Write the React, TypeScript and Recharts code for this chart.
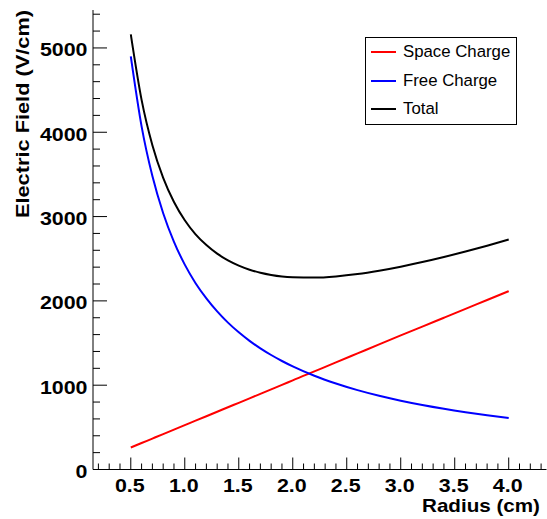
import React from 'react';
import { LineChart, Line, XAxis, YAxis, Legend } from 'recharts';

const radius = [0.5, 0.6, 0.7, 0.8, 0.9, 1.0, 1.1, 1.2, 1.3, 1.4, 1.5, 1.6, 1.7, 1.8, 1.9, 2.0, 2.2, 2.4, 2.6, 2.8, 3.0, 3.2, 3.4, 3.6, 3.8, 4.0];
const spaceCharge = [261, 314, 367, 420, 473, 526, 579, 632, 685, 738, 791, 844, 897, 950, 1003, 1058, 1164, 1270, 1377, 1484, 1590, 1695, 1800, 1905, 2010, 2115];
const freeCharge = [4900, 4070, 3480, 3040, 2700, 2430, 2210, 2030, 1875, 1742, 1627, 1526, 1437, 1358, 1287, 1223, 1112, 1020, 941, 874, 816, 765, 720, 680, 644, 612];
const total = [5161, 4384, 3847, 3460, 3173, 2956, 2789, 2662, 2560, 2480, 2418, 2370, 2334, 2308, 2290, 2281, 2276, 2290, 2318, 2358, 2406, 2460, 2520, 2585, 2654, 2727];

const seriesNames = ['Space Charge', 'Free Charge', 'Total'];
const xTitle = 'Radius (cm)';
const yTitle = 'Electric Field (V/cm)';

const xTicks = [0.2, 0.3, 0.4, 0.5, 0.6, 0.7, 0.8, 0.9, 1.0, 1.1, 1.2, 1.3, 1.4, 1.5, 1.6, 1.7, 1.8, 1.9, 2.0, 2.1, 2.2, 2.3, 2.4, 2.5, 2.6, 2.7, 2.8, 2.9, 3.0, 3.1, 3.2, 3.3, 3.4, 3.5, 3.6, 3.7, 3.8, 3.9, 4.0, 4.1, 4.2, 4.3];
const yTicks = [0, 200, 400, 600, 800, 1000, 1200, 1400, 1600, 1800, 2000, 2200, 2400, 2600, 2800, 3000, 3200, 3400, 3600, 3800, 4000, 4200, 4400, 4600, 4800, 5000, 5200, 5400];
const xDomain = [0.15, 4.35];
const yDomain = [0, 5450];

const data = radius.map((r, i) => ({
  r,
  space: spaceCharge[i],
  free: freeCharge[i],
  total: total[i],
}));

const FONT = '"Liberation Sans", Arial, Helvetica, sans-serif';

const isMajorX = (v: number) => Math.abs(v * 2 - Math.round(v * 2)) < 1e-6;
const isMajorY = (v: number) => Math.abs(v % 1000) < 1e-6;

const BottomTick = (props: any) => {
  const { x, y, payload } = props;
  const v = payload.value as number;
  const major = isMajorX(v);
  const len = major ? 12 : 6;
  return (
    <g>
      <line x1={x} x2={x} y1={y} y2={y - len} stroke="#000" strokeWidth={1} />
      {major && (
        <text
          transform={`translate(${x - 1},${y + 22.4}) scale(1.19,1)`}
          textAnchor="middle"
          fontFamily={FONT}
          fontWeight="bold"
          fontSize={18}
          fill="#000"
        >
          {v.toFixed(1)}
        </text>
      )}
    </g>
  );
};

const TopTick = (props: any) => {
  const { x, y, payload } = props;
  const v = payload.value as number;
  const len = isMajorX(v) ? 12 : 6;
  return <line x1={x} x2={x} y1={y} y2={y + len} stroke="#000" strokeWidth={1} />;
};

const LeftTick = (props: any) => {
  const { x, y, payload } = props;
  const v = payload.value as number;
  const major = isMajorY(v);
  const len = major ? 14 : 7;
  return (
    <g>
      <line x1={x} x2={x + len} y1={y} y2={y} stroke="#000" strokeWidth={1} />
      {major && (
        <text
          transform={`translate(${x - 5.5},${y + 8.5}) scale(1.19,1)`}
          textAnchor="end"
          fontFamily={FONT}
          fontWeight="bold"
          fontSize={18}
          fill="#000"
        >
          {String(v)}
        </text>
      )}
    </g>
  );
};

const RightTick = (props: any) => {
  const { x, y, payload } = props;
  const v = payload.value as number;
  const len = isMajorY(v) ? 14 : 7;
  return <line x1={x} x2={x - len} y1={y} y2={y} stroke="#000" strokeWidth={1} />;
};

const XTitle = () => (
  <text
    transform="translate(540,512) scale(1.146,1)"
    textAnchor="end"
    fontFamily={FONT}
    fontWeight="bold"
    fontSize={18}
    fill="#000"
  >
    {xTitle}
  </text>
);

const YTitle = () => (
  <text
    transform="translate(29,10) rotate(-90) scale(1.21,1)"
    textAnchor="end"
    fontFamily={FONT}
    fontWeight="bold"
    fontSize={18}
    fill="#000"
  >
    {yTitle}
  </text>
);

const LegendBox = (props: any) => {
  const items = ((props.payload || []) as any[])
    .slice()
    .sort((a, b) => seriesNames.indexOf(a.value) - seriesNames.indexOf(b.value));
  return (
    <div
      style={{
        width: 152,
        height: 88,
        border: '1px solid #000',
        background: '#fff',
        boxSizing: 'border-box',
        position: 'relative',
        fontFamily: FONT,
        fontSize: 16.8,
        color: '#000',
      }}
    >
      {items.map((it, i) => (
        <div
          key={i}
          style={{
            position: 'absolute',
            left: 5,
            top: 13.7 + i * 28.8 - 10,
            height: 20,
            display: 'flex',
            alignItems: 'center',
            whiteSpace: 'nowrap',
          }}
        >
          <div style={{ width: 25, height: 2, background: it.color }} />
          <span style={{ marginLeft: 7, lineHeight: '20px' }}>{it.value}</span>
        </div>
      ))}
    </div>
  );
};

export default function App() {
  return (
    <div style={{ position: 'absolute', left: 0, top: 0, width: 547, height: 519, background: '#fff' }}>
      <LineChart
        width={547}
        height={519}
        data={data}
        margin={{ top: 10, right: 0.5, left: 33, bottom: 19.5 }}
      >
        <XAxis
          dataKey="r"
          type="number"
          domain={xDomain}
          ticks={xTicks}
          interval={0}
          tickSize={0}
          tickMargin={0}
          tickLine={false}
          axisLine={{ stroke: '#000', strokeWidth: 1 }}
          tick={<BottomTick />}
          height={30}
          allowDataOverflow
          label={{ content: XTitle }}
        />
        <XAxis
          xAxisId="top"
          orientation="top"
          dataKey="r"
          type="number"
          domain={xDomain}
          ticks={xTicks}
          interval={0}
          tickSize={0}
          tickMargin={0}
          tickLine={false}
          axisLine={{ stroke: '#000', strokeWidth: 1 }}
          tick={<TopTick />}
          height={0}
          allowDataOverflow
        />
        <YAxis
          type="number"
          domain={yDomain}
          ticks={yTicks}
          interval={0}
          tickSize={0}
          tickMargin={0}
          tickLine={false}
          axisLine={{ stroke: '#000', strokeWidth: 1 }}
          tick={<LeftTick />}
          width={60}
          allowDataOverflow
          label={{ content: YTitle }}
        />
        <YAxis
          yAxisId="right"
          orientation="right"
          type="number"
          domain={yDomain}
          ticks={yTicks}
          interval={0}
          tickSize={0}
          tickMargin={0}
          tickLine={false}
          axisLine={{ stroke: '#000', strokeWidth: 1 }}
          tick={<RightTick />}
          width={0}
          allowDataOverflow
        />
        <Legend
          layout="horizontal"
          verticalAlign="middle"
          align="center"
          content={<LegendBox />}
          wrapperStyle={{ position: 'absolute', left: 365, top: 37, width: 152, height: 88 }}
        />
        <Line
          name={seriesNames[0]}
          dataKey="space"
          type="monotone"
          stroke="#ff0000"
          strokeWidth={2}
          dot={false}
          isAnimationActive={false}
        />
        <Line
          name={seriesNames[1]}
          dataKey="free"
          type="monotone"
          stroke="#0000ff"
          strokeWidth={2}
          dot={false}
          isAnimationActive={false}
        />
        <Line
          name={seriesNames[2]}
          dataKey="total"
          type="monotone"
          stroke="#000000"
          strokeWidth={2}
          dot={false}
          isAnimationActive={false}
        />
      </LineChart>
    </div>
  );
}
